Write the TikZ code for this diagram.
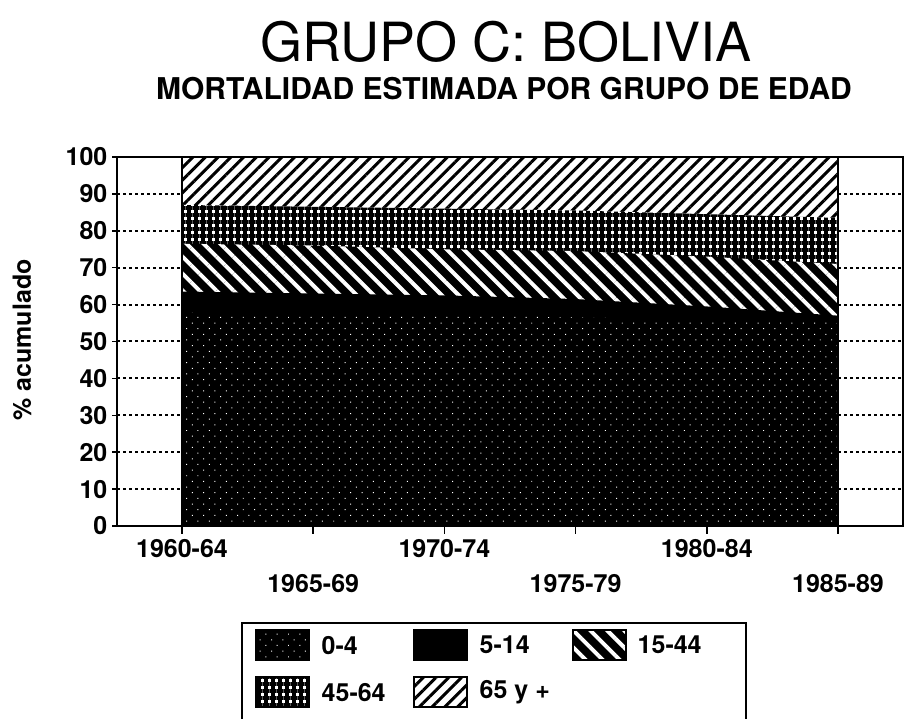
\documentclass[tikz,border=0pt]{standalone}
\usepackage{fontspec}
\setmainfont{TeX Gyre Heros}
\usetikzlibrary{positioning,patterns.meta}

\begin{document}
\begin{tikzpicture}[x=1pt,y=1pt,
	lab/.style={font=\bfseries\fontsize{25}{30}\selectfont, inner sep=0pt},
	sw/.style={draw, line width=1.5pt, minimum width=53pt, minimum height=30pt, inner sep=0pt, anchor=south west},
	gridline/.style={line width=2pt, dash pattern=on 2.5pt off 3.5pt},
	p04/.style={preaction={fill=black}, pattern={Dots[radius=0.7pt, distance=8pt, angle=45]}, pattern color=white},
	p514/.style={fill=black},
	p1544/.style={preaction={fill=black}, pattern={Lines[angle=-45, distance=12pt, line width=4pt]}, pattern color=white},
	p4564/.style={preaction={fill=white}, pattern={Hatch[angle=0, distance=7pt, line width=3.5pt]}, pattern color=black},
	p65/.style={preaction={fill=white}, pattern={Lines[angle=45, distance=9pt, line width=3pt]}, pattern color=black}]
	\useasboundingbox (0,0) rectangle (905,719);

	\node[font=\fontsize{54}{60}\selectfont, anchor=base] (title) at (506,657) {GRUPO C: BOLIVIA};
	\node[font=\bfseries\fontsize{30}{36}\selectfont, anchor=base] (sub) at (504,619) {MORTALIDAD ESTIMADA POR GRUPO DE EDAD};
	\node[lab, rotate=90] (ylab) at (22,379) {\% acumulado};

	\begin{scope}[shift={(182,193)}, x=131.2pt, y=3.69pt]
	% stacked areas, drawn from the top group down
	\path[p65] (0,0) rectangle (5,100);
	\path[p4564] (0,0) -- plot coordinates {(0,87) (1,86.5) (2,86) (3,85.5) (4,84.5) (5,83.5)} -- (5,0) -- cycle;
	\path[p1544] (0,0) -- plot coordinates {(0,76.5) (1,76) (2,75) (3,74.5) (4,73) (5,71)} -- (5,0) -- cycle;
	\path[p514] (0,0) -- plot coordinates {(0,63.5) (1,63) (2,62.5) (3,61.5) (4,59.5) (5,57)} -- (5,0) -- cycle;
	\path[p04] (0,0) -- plot coordinates {(0,58) (1,57.5) (2,57) (3,56.5) (4,56) (5,55)} -- (5,0) -- cycle;
	\draw[line width=1.5pt] (0,0) rectangle (5,100);

	\foreach \v in {10,20,...,90}{
		\draw[gridline] (-0.495,\v) -- (0,\v);
		\draw[gridline] (5,\v) -- (5.495,\v);
	}
	\draw[line width=1.5pt] (-0.495,0) rectangle (5.495,100);
	\foreach \v in {0,10,...,100}
		\draw[line width=1.5pt] (-0.495,\v) -- ++(-5pt,0) node[lab, anchor=east, xshift=-4pt] (y\v) {\v};
	\foreach \i in {0,...,5}
		\draw[line width=1.5pt] (\i,0) -- ++(0,-8pt);

	\node[lab, anchor=base] (x0) at ([yshift=-32pt]0,0) {1960-64};
	\node[lab, anchor=base] (x2) at ([yshift=-32pt]2,0) {1970-74};
	\node[lab, anchor=base] (x4) at ([yshift=-32pt]4,0) {1980-84};
	\node[lab, anchor=base] (x1) at ([yshift=-67pt]1,0) {1965-69};
	\node[lab, anchor=base] (x3) at ([yshift=-67pt]3,0) {1975-79};
	\node[lab, anchor=base] (x5) at ([yshift=-67pt]5,0) {1985-89};
	\end{scope}

	% legend
	\draw[line width=2pt] (242,-2) |- (746,96) -- (746,-2);
	\node[sw, p04] (s1) at (255,58) {};
	\node[sw, p514] (s2) at (413,58) {};
	\node[sw, p1544] (s3) at (572,58) {};
	\node[sw, p4564] (s4) at (255,11) {};
	\node[sw, p65] (s5) at (413,11) {};
	\node[lab, right=12pt of s1] (l1) {0-4};
	\node[lab, right=12pt of s2] (l2) {5-14};
	\node[lab, right=11pt of s3] (l3) {15-44};
	\node[lab, right=12pt of s4] (l4) {45-64};
	\node[lab, right=12pt of s5] (l5) {65 y +};
\end{tikzpicture}
\end{document}
